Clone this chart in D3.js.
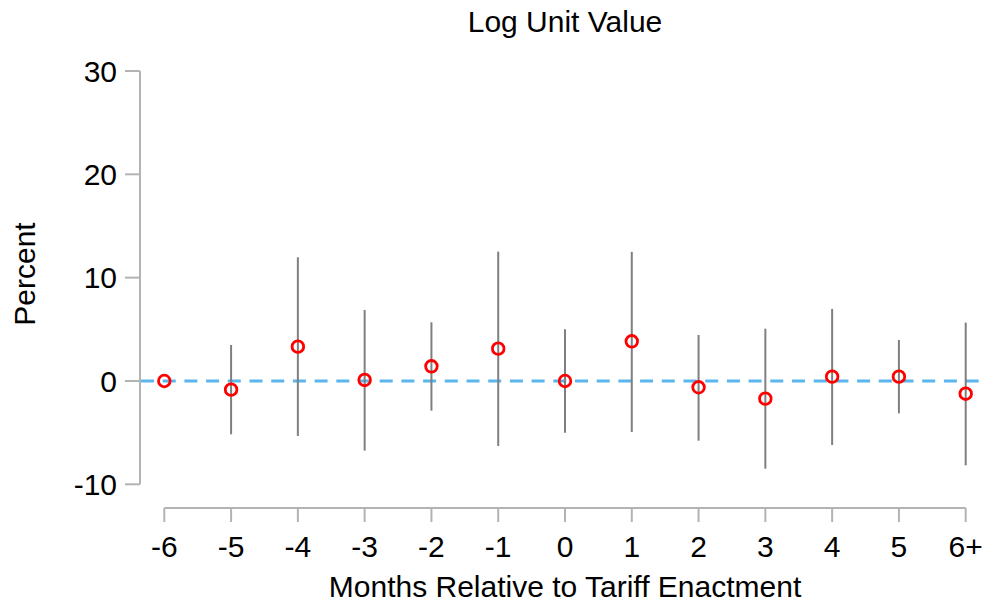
<!DOCTYPE html>
<html>
<head>
<meta charset="utf-8">
<script src="https://cdn.jsdelivr.net/npm/d3@7"></script>
<style>
  html, body { margin: 0; padding: 0; background: #fff; }
  svg { display: block; }
  text { font-family: "Liberation Sans", Arial, Helvetica, sans-serif; fill: #000; }
</style>
</head>
<body>
<svg id="chart" width="987" height="610"></svg>
<script>
const categories = ["-6", "-5", "-4", "-3", "-2", "-1", "0", "1", "2", "3", "4", "5", "6+"];
const estimates  = [0, -0.84, 3.32, 0.10, 1.42, 3.13, 0.0, 3.84, -0.61, -1.71, 0.42, 0.42, -1.23];
const lowerCI    = [null, -5.16, -5.32, -6.74, -2.87, -6.29, -5.0, -4.94, -5.78, -8.49, -6.2, -3.13, -8.16];
const upperCI    = [null, 3.48, 11.97, 6.87, 5.68, 12.52, 5.0, 12.5, 4.45, 5.06, 6.97, 3.97, 5.65];
const yTicks     = [-10, 0, 10, 20, 30];

const titleText = "Log Unit Value";
const xTitle = "Months Relative to Tariff Enactment";
const yTitle = "Percent";

const svg = d3.select("#chart");
const axisColor = "#b3b3b3";
const fs = 30;

const x = d3.scalePoint().domain(categories).range([164.3, 965.7]);
const y = d3.scaleLinear().domain([-10, 30]).range([484.3, 71]);

const data = categories.map((c, i) => ({ c, est: estimates[i], lo: lowerCI[i], hi: upperCI[i] }));

// Y axis
const yAxisX = 140;
svg.append("line")
  .attr("x1", yAxisX).attr("x2", yAxisX)
  .attr("y1", y(-10)).attr("y2", y(30))
  .attr("stroke", axisColor).attr("stroke-width", 2);
svg.selectAll(".ytick").data(yTicks).enter().append("line")
  .attr("x1", 125).attr("x2", yAxisX)
  .attr("y1", d => y(d)).attr("y2", d => y(d))
  .attr("stroke", axisColor).attr("stroke-width", 2);
svg.selectAll(".ylab").data(yTicks).enter().append("text")
  .attr("x", 117).attr("y", d => y(d))
  .attr("dy", "0.36em")
  .attr("text-anchor", "end")
  .attr("font-size", fs)
  .text(d => d);

// X axis
const xAxisY = 508;
svg.append("line")
  .attr("x1", x(categories[0])).attr("x2", x(categories[categories.length - 1]))
  .attr("y1", xAxisY).attr("y2", xAxisY)
  .attr("stroke", axisColor).attr("stroke-width", 2);
svg.selectAll(".xtick").data(categories).enter().append("line")
  .attr("x1", d => x(d)).attr("x2", d => x(d))
  .attr("y1", xAxisY).attr("y2", xAxisY + 14)
  .attr("stroke", axisColor).attr("stroke-width", 2);
svg.selectAll(".xlab").data(categories).enter().append("text")
  .attr("x", d => x(d)).attr("y", 557)
  .attr("text-anchor", "middle")
  .attr("font-size", fs)
  .text(d => d);

// Zero reference line
svg.append("line")
  .attr("x1", yAxisX + 1).attr("x2", 987)
  .attr("y1", y(0)).attr("y2", y(0))
  .attr("stroke", "#5ab6ec").attr("stroke-width", 3)
  .attr("stroke-dasharray", "13,8.7");

// Error bars
svg.selectAll(".err").data(data.filter(d => d.lo !== null)).enter().append("line")
  .attr("x1", d => x(d.c)).attr("x2", d => x(d.c))
  .attr("y1", d => y(d.lo)).attr("y2", d => y(d.hi))
  .attr("stroke", "#7f7f7f").attr("stroke-width", 2);

// Points
svg.selectAll(".pt").data(data).enter().append("circle")
  .attr("cx", d => x(d.c)).attr("cy", d => y(d.est))
  .attr("r", 5.8)
  .attr("fill", "none")
  .attr("stroke", "#ff0000").attr("stroke-width", 2.8);

// Titles
svg.append("text")
  .attr("x", 565).attr("y", 32)
  .attr("text-anchor", "middle")
  .attr("font-size", fs)
  .text(titleText);
svg.append("text")
  .attr("x", 565).attr("y", 597)
  .attr("text-anchor", "middle")
  .attr("font-size", fs)
  .text(xTitle);
svg.append("text")
  .attr("transform", "translate(35,274) rotate(-90)")
  .attr("text-anchor", "middle")
  .attr("font-size", fs)
  .text(yTitle);
</script>
</body>
</html>
